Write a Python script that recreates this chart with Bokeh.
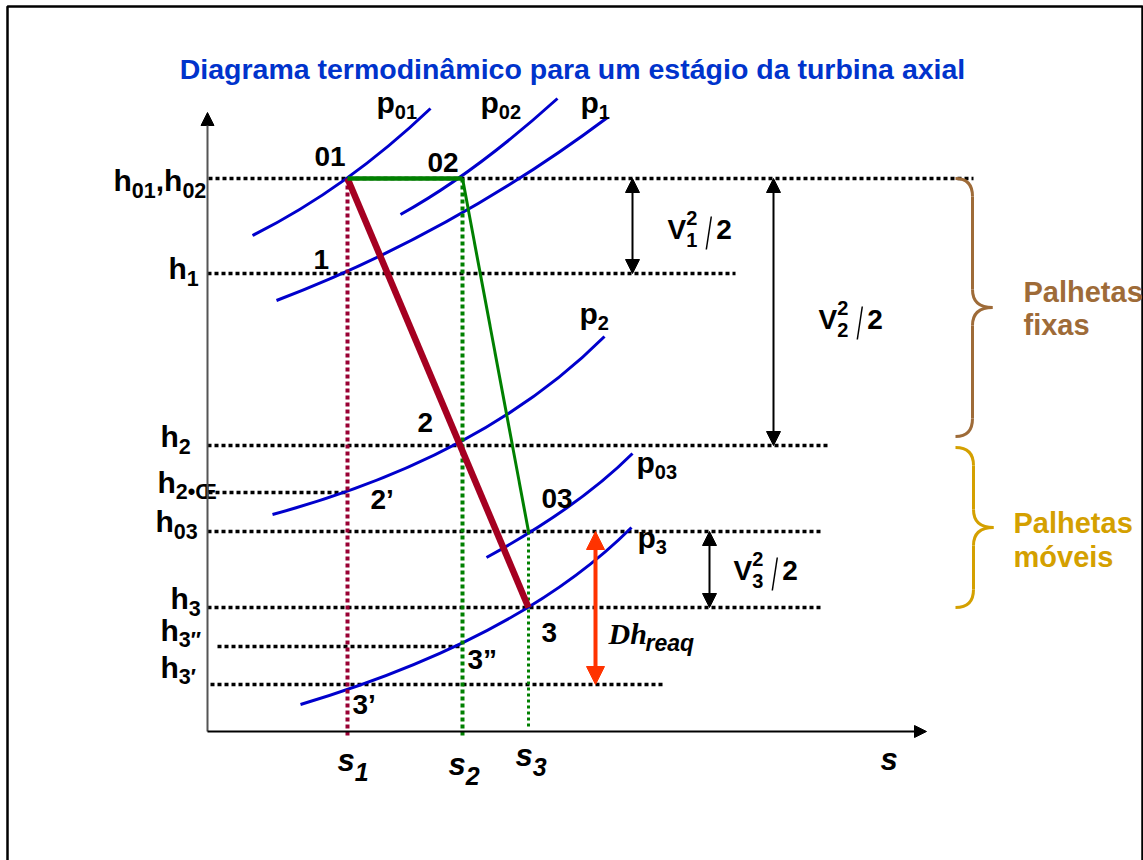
from bokeh.plotting import figure
from bokeh.models import Range1d, Arrow, NormalHead, ColumnDataSource
from bokeh.core.properties import field
from bokeh.embed import file_html
from bokeh.resources import INLINE

# ---------------------------------------------------------------
# h-s diagram of one axial turbine stage (schematic units)
# ---------------------------------------------------------------
title = "Diagrama termodinâmico para um estágio da turbina axial"

# entropy levels
s_names = ["s1", "s2", "s3"]
s_values = [140, 255, 321]

# enthalpy levels
h_names = ["h01,h02", "h1", "h2", "h2'", "h03", "h3", "h3''", "h3'"]
h_values = [553, 458, 286, 239, 200, 124, 85, 47]
h_line_from = [1, 0, 0, 1, 0, 0, 10, 3]
h_line_to = [766, 528, 621, 140, 615, 615, 255, 455]

# state points
state_names = ["01", "02", "1", "2", "2’", "03", "3", "3”", "3’"]
state_s = [140, 255, 140, 255, 140, 321, 321, 255, 140]
state_h = [553, 553, 458, 286, 239, 200, 124, 85, 47]

# isobars: start, control and end point of each curve
isobar_names = ["p01", "p02", "p1", "p2", "p03", "p3"]
isobar_s0 = [45, 193, 69, 65, 279, 93]
isobar_h0 = [496, 517, 431, 217, 174, 27]
isobar_sc = [139, 267, 245, 276, 372, 313]
isobar_hc = [543, 558, 498, 274, 225, 93]
isobar_s1 = [223, 350, 400, 397, 425, 424]
isobar_h1 = [623, 633, 614, 395, 278, 204]

BLUE = "#0000cc"
MAROON = "#990033"
RED = "#a50021"
GREEN = "#008000"
ORANGE = "#ff3300"
BROWN = "#9e6b38"
GOLD = "#d4a000"

p = figure(width=1143, height=860, output_backend="svg", toolbar_location=None,
           x_range=Range1d(-207, 936), y_range=Range1d(-129, 731),
           x_axis_location=None, y_axis_location=None, min_border=0,
           background_fill_color="white", border_fill_color="white")
p.outline_line_color = None
p.grid.visible = False

# frame around the slide
p.line([-200, -200, 935, 935], [-140, 725, 725, -140], line_color="black", line_width=2.5)

# dotted enthalpy levels
p.segment(x0=h_line_from, y0=h_values, x1=h_line_to, y1=h_values,
          line_color="black", line_width=3.5, line_dash="4 3")

# isobars
p.quadratic(x0=isobar_s0, y0=isobar_h0, x1=isobar_s1, y1=isobar_h1,
            cx=isobar_sc, cy=isobar_hc, line_color=BLUE, line_width=3)

# dotted entropy levels
p.segment(x0=[s_values[0]], y0=[state_h[0]], x1=[s_values[0]], y1=[-6],
          line_color=MAROON, line_width=4, line_dash="4 3")
p.segment(x0=[s_values[1]], y0=[state_h[1]], x1=[s_values[1]], y1=[-6],
          line_color=GREEN, line_width=4, line_dash="4 3")
p.segment(x0=[s_values[2]], y0=[state_h[5]], x1=[s_values[2]], y1=[3],
          line_color=GREEN, line_width=3, line_dash="3 3")

# expansion 01 -> 3 and stagnation path 01 -> 02 -> 03
p.line([state_s[0], state_s[6]], [state_h[0], state_h[6]], line_color=RED, line_width=6.5)
p.line([state_s[0], state_s[1]], [state_h[0], state_h[1]], line_color=GREEN, line_width=4.5)
p.line([state_s[1], state_s[5]], [state_h[1], state_h[5]], line_color=GREEN, line_width=3)


# axes with arrow heads
def head(size, color="black"):
    return NormalHead(size=size, fill_color=color, line_color=color, line_width=1)


p.add_layout(Arrow(end=head(13), x_start=0, y_start=0, x_end=0, y_end=619,
                   line_color="#555555", line_width=2))
p.add_layout(Arrow(end=head(12), x_start=0, y_start=0, x_end=719, y_end=0,
                   line_color="black", line_width=2))

# kinetic-energy and reaction arrows
for xs, ha, hb in [(425, h_values[0], h_values[1]),
                   (566, h_values[0], h_values[2]),
                   (502, h_values[4], h_values[5])]:
    p.add_layout(Arrow(start=head(14), end=head(14), x_start=xs, y_start=ha,
                       x_end=xs, y_end=hb, line_color="black", line_width=2))
p.add_layout(Arrow(start=head(18, ORANGE), end=head(18, ORANGE), x_start=388,
                   y_start=h_values[4], x_end=388, y_end=h_values[7],
                   line_color=ORANGE, line_width=4))


# curly braces
def brace(top, bottom, tip, x_end, x_mid, x_tip, color, r=18):
    kw = dict(line_color=color, line_width=3)
    p.quadratic(x0=[x_end], y0=[top], x1=[x_mid], y1=[top - r], cx=[x_mid], cy=[top], **kw)
    p.segment(x0=[x_mid], y0=[top - r], x1=[x_mid], y1=[tip + r], **kw)
    p.quadratic(x0=[x_mid], y0=[tip + r], x1=[x_tip], y1=[tip], cx=[x_mid], cy=[tip], **kw)
    p.quadratic(x0=[x_tip], y0=[tip], x1=[x_mid], y1=[tip - r], cx=[x_mid], cy=[tip], **kw)
    p.segment(x0=[x_mid], y0=[tip - r], x1=[x_mid], y1=[bottom + r], **kw)
    p.quadratic(x0=[x_mid], y0=[bottom + r], x1=[x_end], y1=[bottom], cx=[x_mid], cy=[bottom], **kw)


brace(h_values[0], h_values[2] + 9, 424, 748, 765, 785, BROWN)
brace(h_values[2] - 2, h_values[5], 204, 748, 766, 786, GOLD)

# ---------------------------------------------------------------
# texts
# ---------------------------------------------------------------
W = {"h": 611, "p": 611, "s": 556, "V": 667, ",": 278, "D": 722,
     "•": 350, "Œ": 1000, "’": 278, "”": 500, "″": 400, "′": 250}
LIFT = 0.3  # baseline correction, fraction of the font size


def adv(txt, px):
    return sum(W.get(c, 556) for c in txt) * px / 1000.0


T = dict(x=[], y=[], text=[], dx=[], dy=[], size=[], font=[], style=[], color=[], align=[])


def put(s, h, txt, dx=0.0, dy=0.0, size=26, font="Liberation Sans", style="bold",
        color="black", align="left"):
    T["x"].append(s)
    T["y"].append(h)
    T["text"].append(txt)
    T["dx"].append(dx)
    T["dy"].append(dy - LIFT * size)
    T["size"].append(f"{size}px")
    T["font"].append(font)
    T["style"].append(style)
    T["color"].append(color)
    T["align"].append(align)


def compound(s, h, parts, main, small, sub_dy, style="bold", color="black"):
    x = 0.0
    for txt, kind in parts:
        if kind == "main":
            put(s, h, txt, dx=x, size=main, style=style, color=color)
            x += adv(txt, main)
        else:
            put(s, h, txt, dx=x, dy=sub_dy, size=small, style=style, color=color)
            x += adv(txt, small)


put(365, 654, title, size=28.5, color="#0033cc", align="center")

# isobar names
p_pos = [(169, 620), (273, 620), (373, 620), (372, 409), (429, 260), (430, 185)]
for name, (sx, hy) in zip(isobar_names, p_pos):
    compound(sx, hy, [("p", "main"), (name[1:], "sub")], 30, 20, 6)

# state labels, offsets in pixels from their points
state_off = [(-33, -14), (-35, -8), (-34, -6), (-45, -15), (23, 15),
             (13, -25), (13, 33), (5, 21), (5, 28)]
for name, sx, hy, (ox, oy) in zip(state_names, state_s, state_h, state_off):
    put(sx, hy, name, dx=ox, dy=oy, size=28)

# enthalpy level names
h_parts = [
    [("h", "main"), ("01", "sub"), (",", "main"), ("h", "main"), ("02", "sub")],
    [("h", "main"), ("1", "sub")],
    [("h", "main"), ("2", "sub")],
    [("h", "main"), ("2•Œ", "sub")],
    [("h", "main"), ("03", "sub")],
    [("h", "main"), ("3", "sub")],
    [("h", "main"), ("3″", "sub")],
    [("h", "main"), ("3′", "sub")],
]
h_label_s = [-94, -39, -47, -50, -52, -37, -47, -47]
h_label_h = [542, 454, 286, 240, 201, 124, 92, 55]
for parts, sx, hy in zip(h_parts, h_label_s, h_label_h):
    compound(sx, hy, parts, 30, 21.5, 7)

# entropy level names
for name, sx, hy in zip(s_names, [130, 241, 308], [-38, -42, -33]):
    compound(sx, hy, [("s", "main"), (name[1:], "sub")], 31, 25, 10, style="bold italic")
put(673, -37, "s", size=31, style="bold italic")


# V²/2 labels
def v_label(s, h, n, main=28, small=20):
    put(s, h, "V", size=main)
    x = adv("V", main)
    put(s, h, "2", dx=x, dy=-14, size=small)
    put(s, h, n, dx=x, dy=8, size=small)
    x += adv("2", small)
    p.segment(x0=[s + x + 9], y0=[h - 12], x1=[s + x + 14], y1=[h + 21],
              line_color="black", line_width=1.5)
    put(s, h, "2", dx=x + 19, size=main)


v_label(460, 494, "1")
v_label(611, 404, "2")
v_label(526, 153, "3")

# reaction enthalpy drop
put(401, 89, "Dh", size=30, font="Liberation Serif", style="bold italic")
put(401, 89, "reaq", dx=37, dy=7, size=23, style="bold italic")

# blade rows
put(816, 431, "Palhetas", size=29, color=BROWN)
put(816, 398, "fixas", size=29, color=BROWN)
put(806, 200, "Palhetas", size=29, color=GOLD)
put(806, 166, "móveis", size=29, color=GOLD)

src = ColumnDataSource(T)
p.text(x="x", y="y", text="text", source=src, x_offset="dx", y_offset="dy",
       text_font_size=field("size"), text_font=field("font"),
       text_font_style=field("style"), text_color=field("color"),
       text_align=field("align"), text_baseline="alphabetic")

open("out.html", "w").write(file_html(p, INLINE))
